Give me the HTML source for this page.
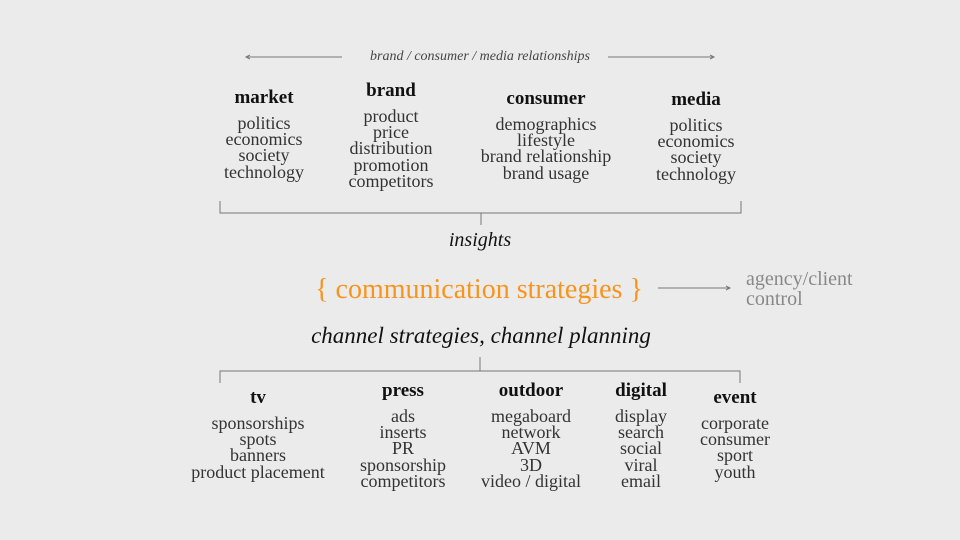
<!DOCTYPE html>
<html><head><meta charset="utf-8"><style>
body{margin:0;width:960px;height:540px;background:#ebebeb;position:relative;overflow:hidden;font-family:"Liberation Serif",serif;}
.c{position:absolute;transform:translateX(-50%);text-align:center;white-space:nowrap;color:#333;font-size:18px;line-height:16.2px;}
.h{color:#111;font-size:19px;font-weight:bold;line-height:20px;margin-bottom:7px;}
.a{position:absolute;white-space:nowrap;}
</style></head><body>
<svg width="960" height="540" style="position:absolute;left:0;top:0" stroke="#777" fill="none" stroke-width="1">
<line x1="246" y1="57" x2="342" y2="57"/><path d="M250 55 L246 57 L250 59"/>
<line x1="608" y1="57" x2="714" y2="57"/><path d="M710 55 L714 57 L710 59"/>
<path d="M220 201 V213 H741 V201 M481 213 V225"/>
<line x1="658" y1="288" x2="730" y2="288"/><path d="M726 286 L730 288 L726 290"/>
<path d="M220 383 V371 H740 V383 M480 357 V371"/>
</svg>
<div class="a" style="left:0;width:960px;text-align:center;top:49px;font-style:italic;font-size:14px;color:#444">brand / consumer / media relationships</div>

<div class="c" style="left:264px;top:88px"><div class="h">market</div>politics<br>economics<br>society<br>technology</div>
<div class="c" style="left:391px;top:81px"><div class="h">brand</div>product<br>price<br>distribution<br>promotion<br>competitors</div>
<div class="c" style="left:546px;top:89px"><div class="h">consumer</div>demographics<br>lifestyle<br>brand relationship<br>brand usage</div>
<div class="c" style="left:696px;top:90px"><div class="h">media</div>politics<br>economics<br>society<br>technology</div>

<div class="a" style="left:0;width:960px;text-align:center;top:229px;font-style:italic;font-size:20px;color:#111">insights</div>
<div class="a" style="left:0;width:958px;text-align:center;top:274px;font-size:28px;color:#f7941d">{ communication strategies }</div>
<div class="a" style="left:746px;top:269px;font-size:20px;line-height:20px;color:#888">agency/client<br>control</div>
<div class="a" style="left:0;width:962px;text-align:center;top:323px;font-style:italic;font-size:23px;color:#111">channel strategies, channel planning</div>

<div class="c" style="left:258px;top:388px"><div class="h">tv</div>sponsorships<br>spots<br>banners<br>product placement</div>
<div class="c" style="left:403px;top:381px"><div class="h">press</div>ads<br>inserts<br>PR<br>sponsorship<br>competitors</div>
<div class="c" style="left:531px;top:381px"><div class="h">outdoor</div>megaboard<br>network<br>AVM<br>3D<br>video / digital</div>
<div class="c" style="left:641px;top:381px"><div class="h">digital</div>display<br>search<br>social<br>viral<br>email</div>
<div class="c" style="left:735px;top:388px"><div class="h">event</div>corporate<br>consumer<br>sport<br>youth</div>
</body></html>
